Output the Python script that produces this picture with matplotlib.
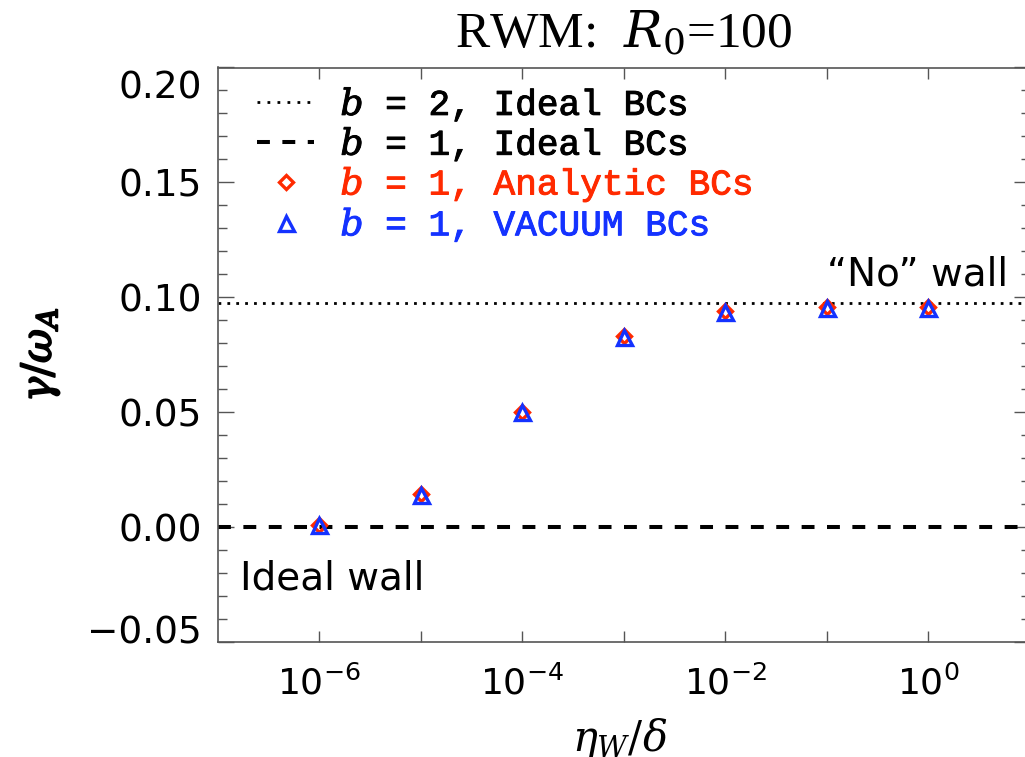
import numpy as np
import matplotlib
matplotlib.use("Agg")
import matplotlib.pyplot as plt
import matplotlib.patheffects as pe
from matplotlib.lines import Line2D
from matplotlib.ticker import FixedLocator, FuncFormatter, MultipleLocator, NullFormatter
from matplotlib.transforms import ScaledTranslation

# data
eta_w = [1e-6, 1e-5, 1e-4, 1e-3, 1e-2, 1e-1, 1e0]
gamma_vacuum = [0.0007, 0.0141, 0.0500, 0.0828, 0.0937, 0.0952, 0.0952]
gamma_analytic = [0.0011, 0.0145, 0.0502, 0.0832, 0.0941, 0.0956, 0.0956]
gamma_b2_ideal = 0.0977
gamma_b1_ideal = 0.0

x_major = [1e-6, 1e-4, 1e-2, 1e0]
x_minor = [1e-5, 1e-3, 1e-1]

RED = '#ff2a00'
BLUE = '#1432ff'
AXCOL = '#555555'

plt.rcParams['mathtext.fontset'] = 'dejavuserif'
plt.rcParams['font.family'] = ['DejaVu Sans']

fig = plt.figure(figsize=(10.25, 7.57), dpi=100)
ax = fig.add_axes([217.5 / 1025, 115 / 757, 812.5 / 1025, 574.5 / 757])

ax.set_xscale('log')
ax.set_xlim(1e-7, 1e1)
ax.set_ylim(-0.05, 0.20)

# ideal-wall / no-wall reference lines
ax.axhline(gamma_b2_ideal, color='black', lw=2.0, dashes=(1.0, 2.2), dash_capstyle='butt')
ax.axhline(gamma_b1_ideal, color='black', lw=2.9, dashes=(3.2, 3.1), dash_capstyle='butt')

ax.plot(eta_w, gamma_analytic, ls='none', marker='D', ms=7.6, mfc='none',
        mec=RED, mew=2.4)
ax.plot(eta_w, gamma_vacuum, ls='none', marker='^', ms=10.8, mfc='none',
        mec=BLUE, mew=2.4)

# ticks
ax.xaxis.set_major_locator(FixedLocator(x_major))
ax.xaxis.set_minor_locator(FixedLocator(x_minor))
ax.xaxis.set_minor_formatter(NullFormatter())
ax.xaxis.set_major_formatter(FuncFormatter(
    lambda v, p: r'$\mathdefault{10^{%d}}$' % int(round(np.log10(v)))))
ax.yaxis.set_major_locator(MultipleLocator(0.05))
ax.yaxis.set_minor_locator(MultipleLocator(0.01))
ax.yaxis.set_major_formatter(FuncFormatter(lambda v, p: ('%.2f' % v).replace('-', '\u2212')))

ax.tick_params(axis='both', which='both', direction='in', top=True, right=True,
               color=AXCOL, width=1.0)
ax.tick_params(axis='x', which='both', length=7.7, labelsize=26, pad=17)
ax.tick_params(axis='y', which='major', length=11.5, labelsize=27, pad=11)
ax.tick_params(axis='y', which='minor', length=6.2)
for s in ax.spines.values():
    s.set_color(AXCOL)
    s.set_linewidth(1.2)

# end labels on y sit inside the axis range, as in the reference
yticks = ax.yaxis.get_major_ticks()
locs = ax.get_yticks()
for t, v in zip(yticks, locs):
    if abs(v - 0.20) < 1e-9:
        t.label1.set_transform(t.label1.get_transform() +
                               ScaledTranslation(0, -12 / 72, fig.dpi_scale_trans))
    elif abs(v + 0.05) < 1e-9:
        t.label1.set_transform(t.label1.get_transform() +
                               ScaledTranslation(0, 9 / 72, fig.dpi_scale_trans))

ax.set_title(r'RWM:  $R_0$=100', fontsize=37, family='Liberation Serif', pad=14)
ylab = ax.set_ylabel(r'$\gamma/\omega_A$', fontsize=30)
ylab.set_path_effects([pe.withStroke(linewidth=1.3, foreground='black')])
ax.yaxis.set_label_coords(-0.1915, 0.5)
ax.set_xlabel(r'$\eta_W/\delta$', fontsize=30, va='top')
ax.xaxis.set_label_coords(0.495, -0.128)

ax.text(0.973, 0.621, '\u201cNo\u201d wall', transform=ax.transAxes, fontsize=28,
        ha='right', va='baseline')
ax.text(0.0277, 0.0917, 'Ideal wall', transform=ax.transAxes, fontsize=28,
        ha='left', va='baseline')

handles = [
    Line2D([], [], color='black', lw=2.0, dashes=(1.0, 2.6), dash_capstyle='butt'),
    Line2D([], [], color='black', lw=2.9, dashes=(3.2, 3.1), dash_capstyle='butt'),
    Line2D([], [], ls='none', marker='D', ms=7.6, mfc='none', mec=RED, mew=2.4),
    Line2D([], [], ls='none', marker='^', ms=10.8, mfc='none', mec=BLUE, mew=2.4),
]
labels = [r'$b$ = 2, Ideal BCs', r'$b$ = 1, Ideal BCs',
          r'$b$ = 1, Analytic BCs', r'$b$ = 1, VACUUM BCs']
leg = ax.legend(handles, labels, loc='upper left', bbox_to_anchor=(0.049, 0.968),
                frameon=False, borderpad=0, borderaxespad=0, handlelength=1.58,
                handletextpad=0.72, labelspacing=0.05,
                prop={'family': 'Liberation Mono', 'size': 26})
for txt, c in zip(leg.get_texts(), ['black', 'black', RED, BLUE]):
    txt.set_color(c)
    txt.set_path_effects([pe.withStroke(linewidth=0.7, foreground=c)])

fig.savefig('out.png', dpi=100)
